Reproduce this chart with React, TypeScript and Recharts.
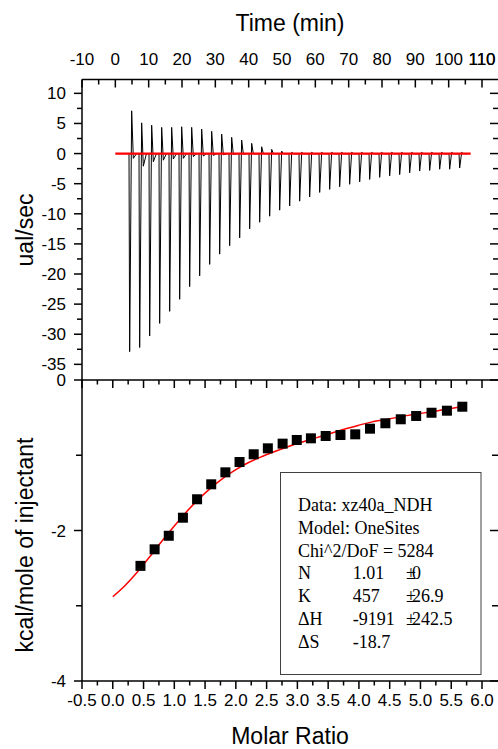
import React from 'react';
import { LineChart, Line, XAxis, YAxis, ComposedChart, Scatter, ReferenceLine } from 'recharts';

// ---------- data ----------
const injTimes = [4.1, 7.1, 10.1, 13.1, 16.1, 19.1, 22.1, 25.1, 28.1, 31.1, 34.1, 37.1, 40.1, 43.1, 46.1, 49.1, 52.1, 55.1, 58.1, 61.1, 64.1, 67.1, 70.1, 73.1, 76.1, 79.1, 82.1, 85.1, 88.1, 91.1, 94.1, 97.1, 100.1, 103.1];
const injMin = [-32.9, -32.2, -30.3, -28.2, -26.2, -24.2, -22.1, -20.3, -18.4, -16.7, -15.3, -14.0, -12.5, -11.4, -10.4, -9.4, -8.7, -7.9, -7.2, -6.45, -5.95, -5.5, -5.1, -4.7, -4.3, -3.95, -3.7, -3.5, -3.2, -2.9, -2.8, -2.6, -2.6, -2.4];
const injMax = [7.1, 5.1, 4.7, 4.35, 4.35, 4.45, 4.35, 4.07, 3.7, 3.24, 2.7, 2.24, 1.7, 1.13, 0.7, 0.4, 0.2, 0.2, 0.2, 0.2, 0.2, 0.2, 0.2, 0.2, 0.2, 0.2, 0.2, 0.2, 0.2, 0.2, 0.2, 0.2, 0.2, 0.2];
const injDip = [-0.8, -2.1, -1.35, -1.1, -0.9, -0.8, -0.5, -0.4, -0.3, -0.2, -0.15, -0.1, -0.05, 0, 0, 0, 0, 0, 0, 0, 0, 0, 0, 0, 0, 0, 0, 0, 0, 0, 0, 0, 0, 0];
const baselineTimes = [0, 106.6];
const baselineValues = [0, 0];

const ratioData = [0.45, 0.68, 0.91, 1.14, 1.37, 1.60, 1.83, 2.06, 2.29, 2.52, 2.76, 2.99, 3.22, 3.46, 3.70, 3.94, 4.18, 4.43, 4.68, 4.93, 5.18, 5.43, 5.68];
const heatData = [-2.47, -2.25, -2.07, -1.83, -1.585, -1.386, -1.227, -1.09, -0.987, -0.908, -0.846, -0.797, -0.775, -0.744, -0.731, -0.722, -0.647, -0.575, -0.522, -0.478, -0.435, -0.408, -0.355];
const ratioFit = [0.0, 0.2, 0.4, 0.6, 0.8, 1.0, 1.2, 1.4, 1.6, 1.8, 2.0, 2.2, 2.4, 2.6, 2.8, 3.0, 3.2, 3.4, 3.6, 3.8, 4.0, 4.2, 4.4, 4.6, 4.8, 5.0, 5.2, 5.4, 5.68];
const heatFit = [-2.88, -2.73, -2.55, -2.35, -2.14, -1.94, -1.75, -1.58, -1.43, -1.30, -1.19, -1.10, -1.025, -0.96, -0.90, -0.845, -0.795, -0.745, -0.695, -0.645, -0.60, -0.56, -0.53, -0.50, -0.47, -0.445, -0.42, -0.39, -0.355];

const timeTicks = [-10, -5, 0, 5, 10, 15, 20, 25, 30, 35, 40, 45, 50, 55, 60, 65, 70, 75, 80, 85, 90, 95, 100, 105, 110];
const lastTimeLabel = 110;
const powerTicks = [10, 7.5, 5, 2.5, 0, -2.5, -5, -7.5, -10, -12.5, -15, -17.5, -20, -22.5, -25, -27.5, -30, -32.5, -35];
const ratioTicks = [-0.5, -0.25, 0, 0.25, 0.5, 0.75, 1, 1.25, 1.5, 1.75, 2, 2.25, 2.5, 2.75, 3, 3.25, 3.5, 3.75, 4, 4.25, 4.5, 4.75, 5, 5.25, 5.5, 5.75, 6];
const heatTicks = [0, -1, -2, -3, -4];

const fitLines = [
  ['Data: xz40a_NDH', '', ''],
  ['Model: OneSites', '', ''],
  ['Chi^2/DoF = 5284', '', ''],
  ['N', '1.01', '0'],
  ['K', '457', '26.9'],
  ['\u0394H', '-9191', '242.5'],
  ['\u0394S', '-18.7', ''],
];

// ---------- derived tables ----------
const thermo: { t: number; v: number }[] = [{ t: 1.0, v: 0 }];
injTimes.forEach((t0, i) => {
  thermo.push({ t: t0, v: 0 });
  thermo.push({ t: t0 + 0.2, v: injMin[i] });
  thermo.push({ t: t0 + 0.8, v: injMax[i] });
  thermo.push({ t: t0 + 1.3, v: injDip[i] });
  thermo.push({ t: t0 + 2.2, v: -0.05 });
});
thermo.push({ t: 105, v: 0 });
const baseline = baselineTimes.map((t, i) => ({ t, v: baselineValues[i] }));
const squares = ratioData.map((r, i) => ({ r, v: heatData[i] }));
const fit = ratioFit.map((r, i) => ({ r, v: heatFit[i] }));

// ---------- layout ----------
const W = 498;
const H = 749;
const LEFT = 82;
const PLOT_W = 416;
const TOP1 = 79.5;
const BOT1 = 380;
const BOT2 = 681;
const RIGHT = LEFT + PLOT_W;
const SANS = '"Liberation Sans", Arial, sans-serif';
const SERIF = '"Liberation Serif", "Times New Roman", serif';
const TICK_FS = 17;
const AX = 1.5;

const near = (a: number, b: number) => Math.abs(a - b) < 1e-6;

const TimeTick = (p: any) => {
  const { x, payload } = p;
  const v = payload.value;
  const major = near(v % 10, 0);
  return (
    <g>
      <line x1={x} x2={x} y1={TOP1} y2={TOP1 + (major ? 8 : 5)} stroke="#000" strokeWidth={AX} />
      {major && (
        <text x={x} y={TOP1 - 14.5} textAnchor="middle" fontSize={TICK_FS} fontFamily={SANS} fill="#000">{String(v)}</text>
      )}
    </g>
  );
};

const PowerTick = (p: any) => {
  const { y, payload } = p;
  const v = payload.value;
  const major = near(v % 5, 0);
  const len = major ? 8 : 5;
  return (
    <g>
      <line x1={LEFT - len} x2={LEFT} y1={y} y2={y} stroke="#000" strokeWidth={AX} />
      <line x1={RIGHT - len} x2={RIGHT} y1={y} y2={y} stroke="#000" strokeWidth={AX} />
      {major && (
        <text x={LEFT - 16} y={y + 6} textAnchor="end" fontSize={TICK_FS} fontFamily={SANS} fill="#000">{String(v)}</text>
      )}
    </g>
  );
};

const RatioTick = (p: any) => {
  const { x, payload } = p;
  const v = payload.value;
  const major = near((v * 2) % 1, 0);
  const len = major ? 8 : 4.5;
  return (
    <g>
      <line x1={x} x2={x} y1={BOT2} y2={BOT2 + len} stroke="#000" strokeWidth={AX} />
      <line x1={x} x2={x} y1={BOT1} y2={BOT1 + len} stroke="#000" strokeWidth={AX} />
      {major && (
        <text x={x} y={BOT2 + 25} textAnchor="middle" fontSize={TICK_FS} fontFamily={SANS} fill="#000">{v.toFixed(1)}</text>
      )}
    </g>
  );
};

const HeatTick = (p: any) => {
  const { y, payload } = p;
  const v = payload.value;
  const major = near(v % 2, 0);
  const len = major ? 8 : 6;
  return (
    <g>
      <line x1={LEFT - len} x2={LEFT} y1={y} y2={y} stroke="#000" strokeWidth={AX} />
      <line x1={RIGHT - len} x2={RIGHT} y1={y} y2={y} stroke="#000" strokeWidth={AX} />
      {major && (
        <text x={LEFT - 16} y={y + 6} textAnchor="end" fontSize={TICK_FS} fontFamily={SANS} fill="#000">{String(v)}</text>
      )}
    </g>
  );
};

const SquareShape = (p: any) => (
  <rect x={p.cx - 5} y={p.cy - 5} width={10} height={10} fill="#000" />
);

export default function App() {
  return (
    <div style={{ position: 'absolute', left: 0, top: 0, width: W, height: H, background: '#fff', overflow: 'hidden' }}>
      <div style={{ position: 'absolute', left: 0, top: 0 }}>
        <LineChart width={W} height={H} data={thermo} margin={{ top: TOP1 - 10, right: W - RIGHT, bottom: H - BOT1, left: LEFT - 10 }}>
          <XAxis
            dataKey="t"
            type="number"
            orientation="top"
            domain={[-10, 114.8]}
            ticks={timeTicks}
            interval={0}
            height={10}
            tickSize={0}
            tickMargin={0}
            tickLine={false}
            tick={<TimeTick />}
            axisLine={{ stroke: '#000', strokeWidth: AX }}
            allowDataOverflow
          />
          <YAxis
            dataKey="v"
            type="number"
            domain={[-37.6, 12.3]}
            ticks={powerTicks}
            interval={0}
            width={10}
            tickSize={0}
            tickMargin={0}
            tickLine={false}
            tick={<PowerTick />}
            axisLine={{ stroke: '#000', strokeWidth: AX }}
            allowDataOverflow
          />
          <ReferenceLine
            x={lastTimeLabel}
            stroke="#000"
            strokeOpacity={0}
            label={{ value: String(lastTimeLabel), position: 'top', offset: 14.5, fontSize: TICK_FS, fontFamily: SANS, fill: '#000' }}
          />
          <Line data={thermo} dataKey="v" stroke="#000" strokeWidth={1} dot={false} isAnimationActive={false} type="linear" />
          <Line data={baseline} dataKey="v" stroke="#ff0000" strokeWidth={2.2} dot={false} isAnimationActive={false} type="linear" />
        </LineChart>
      </div>
      <div style={{ position: 'absolute', left: 0, top: 0 }}>
        <ComposedChart width={W} height={H} data={fit} margin={{ top: BOT1, right: W - RIGHT, bottom: H - BOT2 - 10, left: LEFT - 10 }}>
          <XAxis
            dataKey="r"
            type="number"
            domain={[-0.5, 6.26]}
            ticks={ratioTicks}
            interval={0}
            height={10}
            tickSize={0}
            tickMargin={0}
            tickLine={false}
            tick={<RatioTick />}
            axisLine={{ stroke: '#000', strokeWidth: AX }}
            allowDataOverflow
          />
          <YAxis
            dataKey="v"
            type="number"
            domain={[-4, 0]}
            ticks={heatTicks}
            interval={0}
            width={10}
            tickSize={0}
            tickMargin={0}
            tickLine={false}
            tick={<HeatTick />}
            axisLine={{ stroke: '#000', strokeWidth: AX }}
            allowDataOverflow
          />
          <ReferenceLine y={0} stroke="#000" strokeWidth={AX} />
          <Line data={fit} dataKey="v" stroke="#ff0000" strokeWidth={1.5} dot={false} isAnimationActive={false} type="monotone" />
          <Scatter data={squares} dataKey="v" shape={<SquareShape />} isAnimationActive={false} />
        </ComposedChart>
      </div>
      <svg width={W} height={H} style={{ position: 'absolute', left: 0, top: 0, pointerEvents: 'none' }}>
        <text x={290} y={31} textAnchor="middle" fontSize={23} fontFamily={SANS} fill="#000">Time (min)</text>
        <text x={290} y={744} textAnchor="middle" fontSize={23} fontFamily={SANS} fill="#000">Molar Ratio</text>
        <text x={33} y={230} transform="rotate(-90 33 230)" textAnchor="middle" fontSize={23} fontFamily={SANS} fill="#000">ual/sec</text>
        <text x={33} y={545} transform="rotate(-90 33 545)" textAnchor="middle" fontSize={23} fontFamily={SANS} fill="#000">kcal/mole of injectant</text>
        <rect x={280.5} y={472.5} width={200.5} height={202} fill="#fff" stroke="#404040" strokeWidth={1} />
        {fitLines.map((row, i) => {
          const y = 511 + i * 22.8;
          return (
            <g key={i} fontFamily={SERIF} fontSize={18} fill="#000">
              <text x={298} y={y}>{row[0]}</text>
              {row[1] && <text x={352.7} y={y}>{row[1]}</text>}
              {row[2] && <text x={406} y={y}>{'\u00B1'}</text>}
              {row[2] && <text x={412} y={y}>{row[2]}</text>}
            </g>
          );
        })}
      </svg>
    </div>
  );
}
